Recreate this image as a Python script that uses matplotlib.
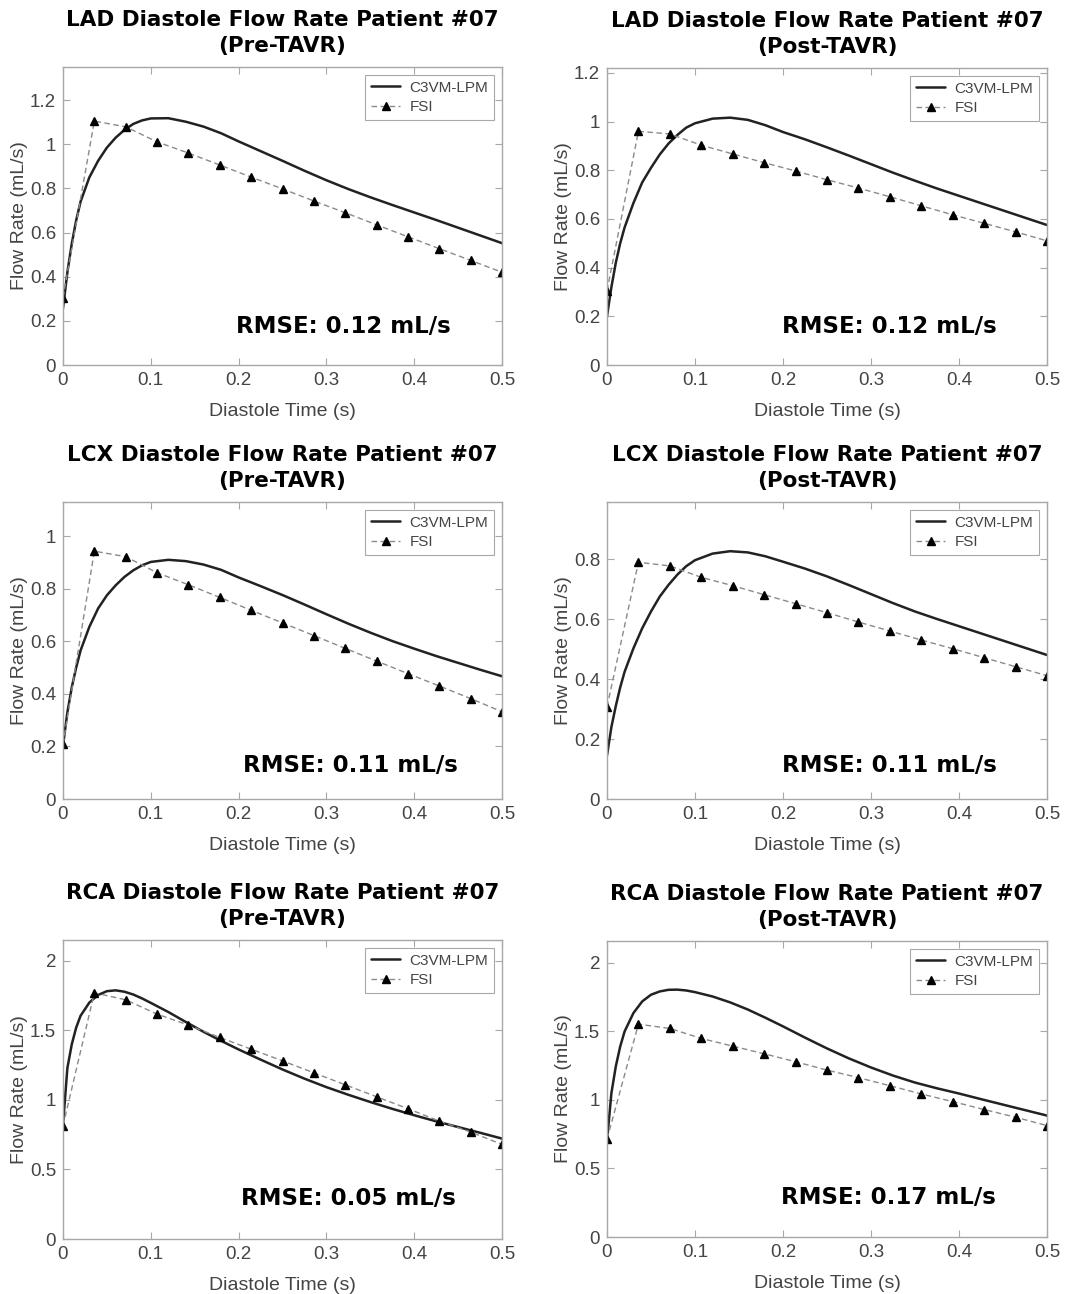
import matplotlib
matplotlib.use("Agg")
import matplotlib.pyplot as plt
from matplotlib.ticker import FuncFormatter, MultipleLocator

# ---------------- data ----------------
# FSI sample times (s)
fsi_t = [0, 0.0357, 0.0714, 0.1071, 0.1429, 0.1786, 0.2143, 0.25,
         0.2857, 0.3214, 0.3571, 0.3929, 0.4286, 0.4643, 0.5]
# C3VM-LPM curve times (s)
lpm_t = [0, 0.005, 0.01, 0.015, 0.02, 0.03, 0.04, 0.05, 0.06, 0.07, 0.08,
         0.09, 0.1, 0.12, 0.14, 0.16, 0.18, 0.2, 0.225, 0.25, 0.275, 0.3,
         0.325, 0.35, 0.375, 0.4, 0.425, 0.45, 0.475, 0.5]

lad_pre_fsi = [0.305, 1.105, 1.079, 1.011, 0.960, 0.906, 0.851, 0.798,
               0.743, 0.690, 0.635, 0.581, 0.527, 0.474, 0.420]
lad_pre_lpm = [0.257, 0.42, 0.55, 0.655, 0.74, 0.85, 0.925, 0.985, 1.03, 1.065,
               1.092, 1.108, 1.117, 1.118, 1.102, 1.08, 1.05, 1.013, 0.969,
               0.925, 0.88, 0.837, 0.797, 0.760, 0.725, 0.691, 0.657, 0.622,
               0.587, 0.552]

lad_post_fsi = [0.305, 0.960, 0.949, 0.903, 0.867, 0.831, 0.797, 0.761,
                0.727, 0.691, 0.654, 0.617, 0.582, 0.547, 0.510]
lad_post_lpm = [0.20, 0.32, 0.42, 0.50, 0.565, 0.665, 0.75, 0.81, 0.865, 0.91,
                0.945, 0.975, 0.993, 1.012, 1.016, 1.007, 0.985, 0.957, 0.927,
                0.894, 0.86, 0.825, 0.79, 0.757, 0.725, 0.695, 0.665, 0.635,
                0.605, 0.575]

lcx_pre_fsi = [0.208, 0.943, 0.922, 0.861, 0.815, 0.767, 0.718, 0.670,
               0.622, 0.573, 0.525, 0.477, 0.430, 0.382, 0.332]
lcx_pre_lpm = [0.203, 0.33, 0.425, 0.50, 0.565, 0.655, 0.725, 0.775, 0.813,
               0.845, 0.87, 0.889, 0.902, 0.91, 0.905, 0.892, 0.872, 0.843,
               0.81, 0.776, 0.74, 0.703, 0.667, 0.633, 0.601, 0.572, 0.544,
               0.518, 0.492, 0.467]

lcx_post_fsi = [0.307, 0.789, 0.777, 0.739, 0.711, 0.681, 0.651, 0.621,
                0.590, 0.560, 0.530, 0.501, 0.471, 0.441, 0.411]
lcx_post_lpm = [0.145, 0.24, 0.31, 0.372, 0.424, 0.502, 0.569, 0.625, 0.675,
                0.714, 0.748, 0.776, 0.796, 0.818, 0.826, 0.822, 0.809, 0.791,
                0.768, 0.742, 0.713, 0.683, 0.653, 0.625, 0.6, 0.576, 0.552,
                0.528, 0.504, 0.480]

rca_pre_fsi = [0.814, 1.770, 1.720, 1.617, 1.538, 1.449, 1.365, 1.281,
               1.195, 1.109, 1.023, 0.937, 0.848, 0.769, 0.680]
rca_pre_lpm = [0.82, 1.23, 1.40, 1.52, 1.605, 1.70, 1.755, 1.782, 1.788, 1.778,
               1.758, 1.73, 1.698, 1.632, 1.56, 1.49, 1.425, 1.363, 1.29,
               1.219, 1.153, 1.092, 1.037, 0.985, 0.936, 0.89, 0.846, 0.805,
               0.764, 0.722]

rca_post_fsi = [0.714, 1.553, 1.522, 1.449, 1.393, 1.337, 1.279, 1.218,
                1.163, 1.104, 1.044, 0.988, 0.930, 0.874, 0.813]
rca_post_lpm = [0.70, 1.05, 1.245, 1.39, 1.50, 1.634, 1.719, 1.768, 1.792,
                1.804, 1.805, 1.799, 1.787, 1.755, 1.712, 1.66, 1.60, 1.537,
                1.455, 1.376, 1.303, 1.237, 1.178, 1.127, 1.085, 1.047, 1.006,
                0.966, 0.926, 0.886]

titles = [
    "LAD Diastole Flow Rate Patient #07\n(Pre-TAVR)",
    "LAD Diastole Flow Rate Patient #07\n(Post-TAVR)",
    "LCX Diastole Flow Rate Patient #07\n(Pre-TAVR)",
    "LCX Diastole Flow Rate Patient #07\n(Post-TAVR)",
    "RCA Diastole Flow Rate Patient #07\n(Pre-TAVR)",
    "RCA Diastole Flow Rate Patient #07\n(Post-TAVR)",
]
rmse_labels = ["RMSE: 0.12 mL/s", "RMSE: 0.12 mL/s", "RMSE: 0.11 mL/s",
               "RMSE: 0.11 mL/s", "RMSE: 0.05 mL/s", "RMSE: 0.17 mL/s"]
fsi_series = [lad_pre_fsi, lad_post_fsi, lcx_pre_fsi, lcx_post_fsi, rca_pre_fsi, rca_post_fsi]
lpm_series = [lad_pre_lpm, lad_post_lpm, lcx_pre_lpm, lcx_post_lpm, rca_pre_lpm, rca_post_lpm]
y_max = [1.35, 1.22, 1.13, 0.99, 2.15, 2.16]
y_step = [0.2, 0.2, 0.2, 0.2, 0.5, 0.5]
x_ticks = [0, 0.1, 0.2, 0.3, 0.4, 0.5]

# ---------------- layout (pixels) ----------------
W, H = 1071, 1294
rects_px = [(63, 502, 67, 365), (607, 1047, 68, 365),
            (63, 502, 502, 799), (607, 1047, 502, 799),
            (63, 502, 940, 1239), (607, 1047, 941, 1237)]
rmse_pos = [(0.638, 0.128), (0.641, 0.128), (0.654, 0.114),
            (0.643, 0.114), (0.650, 0.134), (0.640, 0.134)]

fig = plt.figure(figsize=(W / 100, H / 100), dpi=100)
fig.patch.set_facecolor("white")

sans = ["Liberation Sans", "DejaVu Sans"]
grey_txt = "#444444"
frame_col = "#a8a8a8"
fmt = FuncFormatter(lambda v, p: "%g" % round(v, 3))

for i in range(6):
    L, R, T, B = rects_px[i]
    ax = fig.add_axes([L / W, 1 - B / H, (R - L) / W, (B - T) / H])
    ax.plot(lpm_t, lpm_series[i], color="#222222", lw=1.8, label="C3VM-LPM",
            solid_capstyle="round", solid_joinstyle="round")
    ax.plot(fsi_t, fsi_series[i], color="#8a8a8a", lw=1.0, ls=(0, (4, 2.5)),
            marker="^", markersize=6, markerfacecolor="black",
            markeredgecolor="black", label="FSI")
    ax.set_xlim(0, 0.5)
    ax.set_ylim(0, y_max[i])
    ax.set_xticks(x_ticks)
    ax.yaxis.set_major_locator(MultipleLocator(y_step[i]))
    ax.xaxis.set_major_formatter(fmt)
    ax.yaxis.set_major_formatter(fmt)
    ax.tick_params(direction="in", top=True, right=True, length=5, width=0.8,
                   color=frame_col, labelcolor=grey_txt, labelsize=13.5, pad=5)
    for lab in ax.get_xticklabels() + ax.get_yticklabels():
        lab.set_family(sans)
    for sp in ax.spines.values():
        sp.set_color(frame_col)
        sp.set_linewidth(1.0)
    ax.set_xlabel("Diastole Time (s)", fontsize=14, color=grey_txt, family=sans)
    ax.set_ylabel("Flow Rate (mL/s)", fontsize=14, color=grey_txt, family=sans)
    ax.xaxis.set_label_coords(0.5, -0.128)
    ax.yaxis.set_label_coords(-0.08, 0.5)
    ax.set_title(titles[i], fontsize=15.5, fontweight="bold", family="DejaVu Sans",
                 linespacing=1.35, pad=11, color="black")
    ax.text(rmse_pos[i][0], rmse_pos[i][1], rmse_labels[i], transform=ax.transAxes,
            ha="center", va="center", fontsize=16.5, fontweight="bold",
            family="DejaVu Sans", color="black")
    leg = ax.legend(loc="upper right", frameon=True, fancybox=False,
                    framealpha=1, edgecolor=frame_col, handlelength=1.9,
                    borderaxespad=0.5, labelspacing=0.35, borderpad=0.4,
                    handletextpad=0.6, prop={"family": sans, "size": 11})
    leg.get_frame().set_linewidth(0.8)
    for t in leg.get_texts():
        t.set_color(grey_txt)

fig.savefig("out.png", dpi=100, facecolor="white")
